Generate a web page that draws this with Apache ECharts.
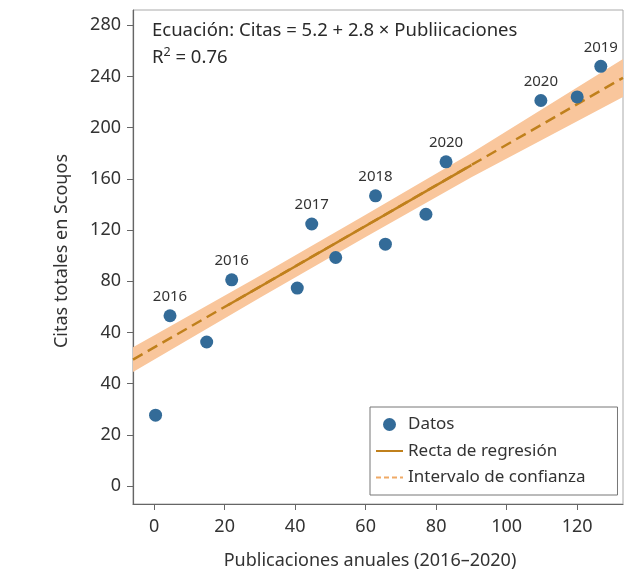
<!DOCTYPE html>
<html><head><meta charset="utf-8">
<script src="https://cdn.jsdelivr.net/npm/echarts@6/dist/echarts.min.js"></script>
<style>html,body{margin:0;padding:0;background:#fff}#c{width:625px;height:575px}</style>
</head><body><div id="c"></div>
<script>
// Data
const pubX   = [0.4, 4.5, 14.9, 22.0, 40.6, 44.7, 51.5, 62.8, 65.6, 77.1, 82.8, 109.7, 120.0, 126.7];
const citasY = [-24.6, 53.1, 32.6, 81.2, 74.7, 124.8, 98.6, 146.8, 109.0, 132.4, 173.4, 221.3, 224.1, 248.0];
const pointYears = ['', '2016', '', '2016', '', '2017', '', '2018', '', '', '2020', '2020', '', '2019'];
const regX = [-6, 133];
const regY = [18.8, 239];
const solidX = [21, 90];
const solidY = [61.5, 170.8];
const bandX = [-6, 30, 60, 90, 133];
const bandLower = [9.1, 67.2, 114.6, 161.3, 224.1];
const bandUpper = [28.5, 84.4, 132.0, 180.3, 253.7];
const yTickValues = [-80, -40, 0, 40, 80, 120, 160, 200, 240, 280];
const yTickLabels = ['0', '20', '40', '40', '80', '120', '160', '200', '240', '280'];
const xTickValues = [0, 20, 40, 60, 80, 100, 120];

const FONT = '"Noto Sans", "Open Sans", sans-serif';
const chart = echarts.init(document.getElementById('c'));
const pair = (xs, ys) => xs.map((x, i) => [x, ys[i]]);
const hidden = { color: 'rgba(0,0,0,0)', opacity: 0, borderWidth: 0 };

chart.setOption({
  animation: false,
  textStyle: { fontFamily: FONT, color: '#333' },
  grid: { left: 133, right: 2, top: 10, bottom: 70, show: true, borderColor: '#aaa', borderWidth: 1, containLabel: false },
  xAxis: {
    type: 'value', min: -6, max: 133,
    name: 'Publicaciones anuales (2016–2020)', nameLocation: 'middle', nameGap: 48,
    nameTextStyle: { fontSize: 18, color: '#333', fontFamily: FONT, padding: [0, 16, 0, 0] },
    axisLine: { show: true, onZero: false, lineStyle: { color: '#666', width: 1.2 } },
    axisTick: { show: true, length: 6, customValues: xTickValues, lineStyle: { color: '#666' } },
    axisLabel: { customValues: xTickValues, fontSize: 18, color: '#333', margin: 14, fontFamily: FONT },
    splitLine: { show: false }
  },
  yAxis: {
    type: 'value', min: -94, max: 292,
    name: 'Citas totales en Scoɥos', nameLocation: 'middle', nameGap: 62,
    nameTextStyle: { fontSize: 18, color: '#333', fontFamily: FONT, padding: [0, 0, 0, 12] },
    axisLine: { show: true, onZero: false, lineStyle: { color: '#666', width: 1.2 } },
    axisTick: { show: true, length: 6, customValues: yTickValues, lineStyle: { color: '#666' } },
    axisLabel: { customValues: yTickValues, fontSize: 18, color: '#333', margin: 12, fontFamily: FONT,
      formatter: v => { const i = yTickValues.indexOf(v); return i >= 0 ? yTickLabels[i] : ''; } },
    splitLine: { show: false }
  },
  legend: {
    orient: 'vertical', left: 370, top: 407,
    data: [
      { name: 'Datos' },
      { name: 'Recta de regresión', itemStyle: hidden },
      { name: 'Intervalo de confianza', itemStyle: hidden }
    ],
    itemWidth: 27, itemHeight: 13, itemGap: 9.5,
    padding: [9, 32, 9, 5],
    borderColor: '#777', borderWidth: 1, backgroundColor: '#fff',
    textStyle: { fontSize: 17, color: '#333', fontFamily: FONT }
  },
  graphic: [
    { type: 'text', left: 152, top: 21, z: 100,
      style: { text: 'Ecuación: Citas = 5.2 + 2.8 × Publiicaciones', font: '18.5px ' + FONT, fill: '#2a2a2a' } },
    { type: 'text', left: 152, top: 46, z: 100,
      style: { text: '{b|R}{s|2}{b| = 0.76}', fill: '#2a2a2a',
        rich: { b: { fontSize: 18.5, lineHeight: 24, fontFamily: FONT, fill: '#2a2a2a' },
                s: { fontSize: 12.5, lineHeight: 13, verticalAlign: 'top', fontFamily: FONT, fill: '#2a2a2a' } } } }
  ],
  series: [
    { type: 'custom', name: 'band', silent: true, z: 1,
      data: bandX.map((x, i) => [x, bandLower[i], bandUpper[i]]),
      encode: { x: 0, y: [1, 2] },
      renderItem: (params, api) => {
        if (params.dataIndex !== 0) return null;
        const pts = [];
        for (let i = 0; i < bandX.length; i++) pts.push(api.coord([bandX[i], bandUpper[i]]));
        for (let i = bandX.length - 1; i >= 0; i--) pts.push(api.coord([bandX[i], bandLower[i]]));
        return { type: 'polygon', shape: { points: pts }, style: { fill: '#f9c69c' } };
      } },
    { type: 'line', name: 'regDashed', data: pair(regX, regY), symbol: 'none',
      lineStyle: { color: '#c0801c', width: 2.5, type: [11, 6] }, z: 2 },
    { type: 'line', name: 'Recta de regresión', data: pair(solidX, solidY), symbol: 'none',
      lineStyle: { color: '#c0801c', width: 2.5 }, itemStyle: { color: '#c0801c' }, z: 3 },
    { type: 'line', name: 'Intervalo de confianza', data: [], symbol: 'none',
      lineStyle: { color: '#f0aa66', width: 2, type: [5, 3] }, itemStyle: { color: '#f0aa66' } },
    { type: 'scatter', name: 'Datos', data: pair(pubX, citasY), symbolSize: 13,
      itemStyle: { color: '#336b98', opacity: 1 }, z: 5,
      label: { show: true, position: 'top', distance: 5, fontSize: 15, color: '#333', fontFamily: FONT,
        formatter: p => pointYears[p.dataIndex] } }
  ]
});
</script></body></html>
